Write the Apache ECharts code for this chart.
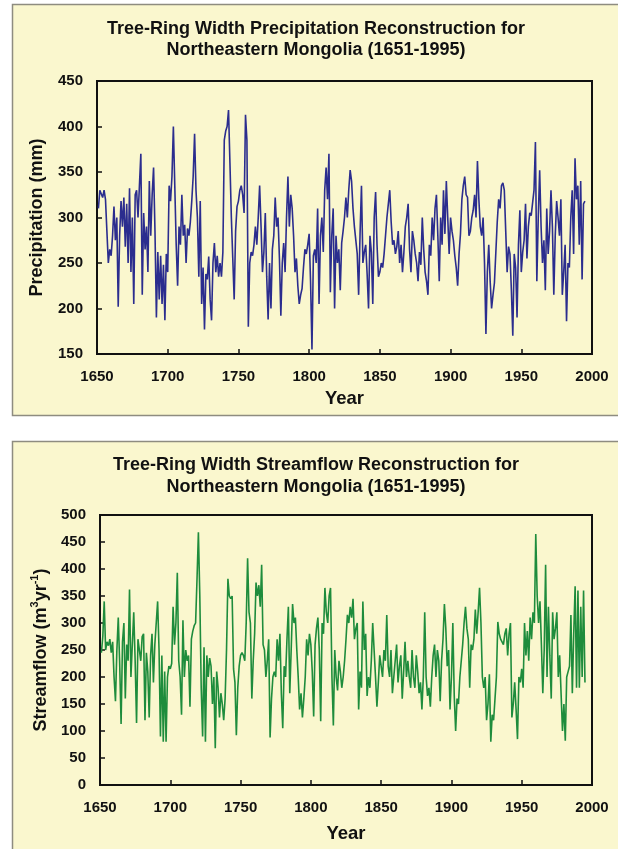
<!DOCTYPE html>
<html>
<head>
<meta charset="utf-8">
<script src="https://cdn.jsdelivr.net/npm/echarts@6/dist/echarts.min.js"></script>
<style>
html,body{margin:0;padding:0;background:#ffffff;}
#c{width:618px;height:849px;}
</style>
</head>
<body>
<div id="c"></div>
<script>
// ---- data ----
const firstYear = 1651;
const lastYear = 1995;
const xTicks = [1650, 1700, 1750, 1800, 1850, 1900, 1950, 2000];
const precipTicks = [150, 200, 250, 300, 350, 400, 450];
const streamTicks = [0, 50, 100, 150, 200, 250, 300, 350, 400, 450, 500];

// Precipitation (mm), 1651-1995
const precipitation = [
  310,330,328,322,330,320,285,250,265,258,
  280,312,275,300,202,280,318,290,322,268,
  315,250,332,240,300,205,325,330,300,335,
  370,215,305,265,290,240,340,280,325,355,
  285,190,262,210,258,205,248,187,260,240,
  335,318,345,400,335,270,225,290,270,325,
  280,292,250,288,280,295,318,345,392,330,
  300,235,318,205,245,177,238,232,257,210,
  187,250,272,240,258,235,250,235,262,385,
  395,400,418,360,300,255,210,285,312,318,
  330,335,325,305,413,385,180,250,262,258,
  270,290,270,300,335,290,240,262,305,235,
  188,250,200,265,280,322,290,300,255,192,
  250,272,240,300,345,290,325,310,280,240,
  255,225,205,215,222,245,265,260,270,282,
  230,155,258,265,250,310,205,280,300,262,
  330,355,320,370,218,280,310,200,280,250,
  265,220,272,285,300,322,300,330,352,340,
  310,290,292,260,215,282,335,250,262,270,
  238,200,280,262,205,300,328,270,235,240,
  250,245,260,280,300,315,330,295,270,275,
  260,268,285,250,270,240,262,290,300,315,
  265,240,285,275,260,250,230,262,248,300,
  265,240,230,215,270,258,300,275,310,325,
  280,230,300,270,330,282,340,300,260,300,
  285,275,258,245,225,260,282,320,335,345,
  325,322,280,285,300,308,325,300,362,320,
  290,280,300,250,172,240,270,230,200,215,
  228,230,295,320,310,335,338,330,285,240,
  268,260,220,170,260,245,190,270,308,240,
  262,275,315,255,290,305,302,300,330,383,
  230,300,352,290,250,275,220,310,260,285,
  330,290,215,280,318,300,280,320,215,240,
  270,186,250,245,300,330,260,365,320,335,
  270,340,232,315,318
];

// Streamflow (m3/yr), 1651-1995
const streamflow = [
  245,275,340,250,265,258,270,245,265,200,
  155,250,310,225,113,265,300,160,260,230,
  362,200,260,320,230,115,270,250,230,275,
  280,120,245,210,125,240,280,190,260,300,
  340,250,90,240,80,210,80,200,220,215,
  225,330,260,300,393,230,200,130,305,200,
  250,230,240,145,270,285,295,300,380,468,
  350,180,90,255,80,240,200,235,220,150,
  200,68,210,180,125,170,150,120,160,250,
  382,350,345,350,215,190,92,180,220,240,
  245,240,230,300,420,320,300,160,230,280,
  375,350,370,330,408,260,250,200,230,270,
  88,160,200,210,200,270,230,280,170,105,
  220,200,270,330,170,250,335,300,310,250,
  200,140,170,125,160,200,270,240,280,260,
  210,127,260,290,310,250,118,300,280,365,
  320,300,350,365,200,110,250,200,175,230,
  210,180,200,230,270,315,300,330,310,345,
  270,290,300,140,210,180,340,250,280,165,
  200,180,230,300,250,200,145,190,240,220,
  200,250,230,315,220,200,250,170,200,230,
  260,190,220,240,160,210,265,200,230,200,
  180,250,200,180,240,210,170,190,140,200,
  320,200,165,180,145,200,240,260,200,250,
  230,155,230,270,335,290,220,250,140,200,
  300,165,100,160,150,200,230,260,300,330,
  290,270,180,260,250,270,325,280,320,365,
  300,200,180,200,120,150,205,80,130,120,
  160,200,302,280,270,265,260,280,290,240,
  280,300,125,150,190,140,85,200,190,215,
  180,300,240,285,230,310,270,320,300,465,
  350,300,340,260,170,250,408,200,330,240,
  160,320,270,290,320,200,240,170,100,150,
  82,200,210,220,315,170,280,368,180,360,
  180,330,200,360,190
];

const titles1 = ['Tree-Ring Width Precipitation Reconstruction for', 'Northeastern Mongolia (1651-1995)'];
const titles2 = ['Tree-Ring Width Streamflow Reconstruction for', 'Northeastern Mongolia (1651-1995)'];

// ---- build ----
const years = [];
for (let y = firstYear; y <= lastYear; y++) years.push(y);
const pData = years.map((y, i) => [y, precipitation[i]]);
const sData = years.map((y, i) => [y, streamflow[i]]);

const FONT = '"Liberation Sans", Arial, Helvetica, sans-serif';
const PANEL = '#FAF7CE';
const BORDER = '#8E8C80';

const chart = echarts.init(document.getElementById('c'), null, {renderer: 'canvas'});

function xAxisCfg(gridIndex, gap) {
  return {
    type: 'value', gridIndex: gridIndex,
    min: xTicks[0], max: xTicks[xTicks.length - 1], interval: 50,
    name: 'Year', nameLocation: 'middle', nameGap: gap,
    nameTextStyle: {fontFamily: FONT, fontSize: 18.5, fontWeight: 'bold', color: '#111'},
    axisLine: {show: true, lineStyle: {color: '#111', width: 2}},
    axisTick: {show: true, inside: true, length: 5, lineStyle: {color: '#111', width: 1.5}},
    axisLabel: {fontFamily: FONT, fontSize: 15, fontWeight: 'bold', color: '#111', margin: 15,
      formatter: function (v) { return String(v); }},
    splitLine: {show: false}
  };
}
function yAxisCfg(gridIndex, ticks, name, gap, rich) {
  const cfg = {
    type: 'value', gridIndex: gridIndex,
    min: ticks[0], max: ticks[ticks.length - 1], interval: 50,
    name: name, nameLocation: 'middle', nameGap: gap, nameRotate: 90,
    nameTextStyle: {fontFamily: FONT, fontSize: 18, fontWeight: 'bold', color: '#111'},
    axisLine: {show: true, lineStyle: {color: '#111', width: 2}},
    axisTick: {show: true, inside: true, length: 5, lineStyle: {color: '#111', width: 1.5}},
    axisLabel: {fontFamily: FONT, fontSize: 15, fontWeight: 'bold', color: '#111', margin: 14,
      formatter: function (v) { return String(v); }},
    splitLine: {show: false}
  };
  if (rich) cfg.nameTextStyle.rich = rich;
  return cfg;
}

function titleText(txt, y) {
  return {
    type: 'text', z: 5, silent: true,
    style: {text: txt, x: 316, y: y, textAlign: 'center', textVerticalAlign: 'middle',
      fontFamily: FONT, fontSize: 18, fontWeight: 'bold', fill: '#111'}
  };
}

const supStyle = {fontFamily: FONT, fontSize: 11, fontWeight: 'bold', color: '#111', verticalAlign: 'top', lineHeight: 21};
const baseStyle = {fontFamily: FONT, fontSize: 18, fontWeight: 'bold', color: '#111', verticalAlign: 'bottom', lineHeight: 21};

chart.setOption({
  animation: false,
  backgroundColor: '#ffffff',
  graphic: [
    {type: 'rect', z: -10, silent: true, shape: {x: 12.5, y: 4.5, width: 620, height: 411},
      style: {fill: PANEL, stroke: BORDER, lineWidth: 1.5}},
    {type: 'rect', z: -10, silent: true, shape: {x: 12.5, y: 441.5, width: 620, height: 420},
      style: {fill: PANEL, stroke: BORDER, lineWidth: 1.5}},
    titleText(titles1[0], 29),
    titleText(titles1[1], 50),
    titleText(titles2[0], 465),
    titleText(titles2[1], 487)
  ],
  grid: [
    {left: 97, top: 81, width: 495, height: 273, show: true, borderColor: '#111', borderWidth: 2, backgroundColor: 'transparent'},
    {left: 100, top: 515, width: 492, height: 270, show: true, borderColor: '#111', borderWidth: 2, backgroundColor: 'transparent'}
  ],
  xAxis: [xAxisCfg(0, 35), xAxisCfg(1, 39)],
  yAxis: [
    yAxisCfg(0, precipTicks, 'Precipitation (mm)', 51),
    yAxisCfg(1, streamTicks, '{b|Streamflow (m}{s|3}{b|yr}{s|-1}{b|)}', 49, {b: baseStyle, s: supStyle})
  ],
  series: [
    {type: 'line', xAxisIndex: 0, yAxisIndex: 0, data: pData, showSymbol: false, symbol: 'none',
      lineStyle: {color: '#2B2D8E', width: 1.6}, z: 3},
    {type: 'line', xAxisIndex: 1, yAxisIndex: 1, data: sData, showSymbol: false, symbol: 'none',
      lineStyle: {color: '#1E8C3C', width: 1.6}, z: 3}
  ]
});
</script>
</body>
</html>
